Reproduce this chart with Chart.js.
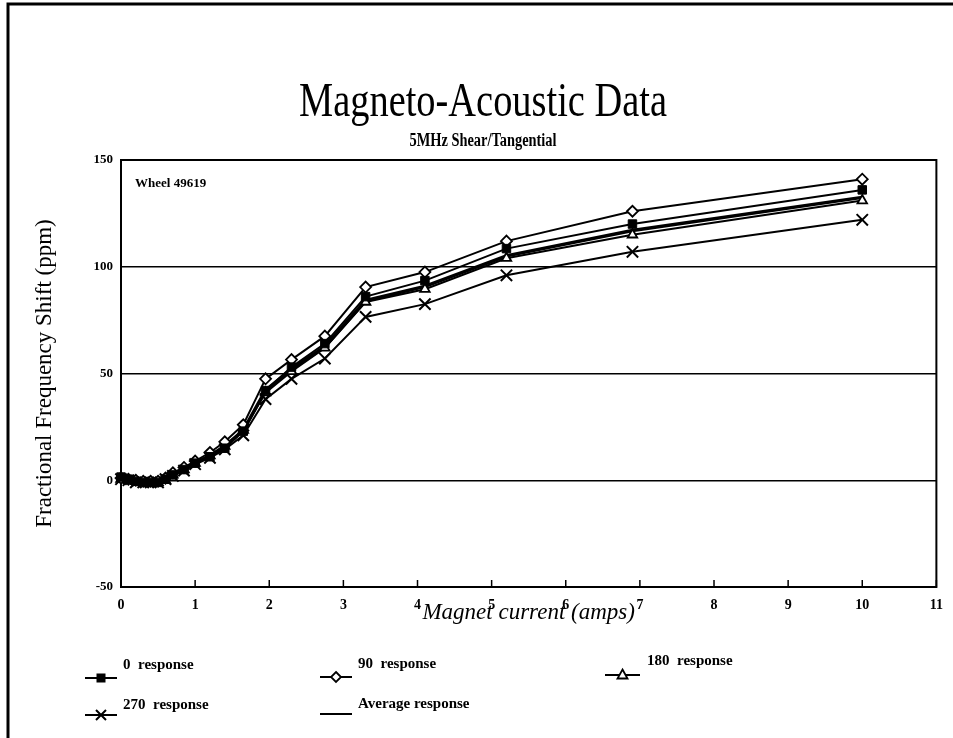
<!DOCTYPE html>
<html>
<head>
<meta charset="utf-8">
<script src="https://cdn.jsdelivr.net/npm/chart.js@4.4.1/dist/chart.umd.min.js"></script>
<style>
  html, body { margin: 0; padding: 0; background: #fff; }
  canvas { display: block; }
</style>
</head>
<body>
<canvas id="chart" width="953" height="738"></canvas>
<script>
// Magnet current settings (amps)
const currentAmps = [0, 0.1, 0.2, 0.3, 0.4, 0.5, 0.6, 0.7, 0.85, 1.0, 1.2, 1.4, 1.65, 1.95, 2.3, 2.75, 3.3, 4.1, 5.2, 6.9, 10.0];

// Fractional frequency shift (ppm) for each transducer orientation
const response0   = [1.5, 0.5, -0.5, -1, -1, -1, 0.5, 2.5, 5, 8, 11, 15, 23, 42, 53, 64, 86, 93.5, 108.5, 120, 136];
const response90  = [1, 0.5, 0, -0.5, -0.5, -0.5, 1, 3.5, 6, 9, 13, 18, 26, 47.5, 56.5, 67.5, 90.5, 97.5, 112, 126, 141];
const response180 = [0.5, 0, -0.5, -1, -1.5, -1, 0, 2.5, 5, 8, 11.5, 16, 23.5, 41, 51, 62, 83.5, 89.5, 104, 115, 131];
const response270 = [0.5, 0, -1, -1, -1, -1, 0.5, 2, 4.5, 7.5, 10.5, 14.5, 21, 38, 47.5, 57, 76.5, 82.5, 96, 107, 122];
const responseAvg = [0.9, 0.3, -0.5, -0.9, -1, -0.9, 0.5, 2.6, 5.1, 8.1, 11.5, 15.9, 23.4, 42.1, 52, 62.6, 84.1, 90.8, 105.1, 117, 132.5];

// Axis ticks
const xTicks = [0, 1, 2, 3, 4, 5, 6, 7, 8, 9, 10, 11];
const yTicks = [-50, 0, 50, 100, 150];

const titleText = 'Magneto-Acoustic Data';
const subtitleText = '5MHz Shear/Tangential';
const wheelLabel = 'Wheel 49619';

const SERIF = '"Liberation Serif", "Times New Roman", serif';

function pts(values) {
  return values.map((v, i) => ({ x: currentAmps[i], y: v }));
}

const datasets = [
  { label: '0  response', data: pts(response0), borderColor: '#000', borderWidth: 2,
    pointStyle: 'rect', pointRadius: 6, pointBackgroundColor: '#000', pointBorderColor: '#000', pointBorderWidth: 1 },
  { label: '90  response', data: pts(response90), borderColor: '#000', borderWidth: 2,
    pointStyle: 'rectRot', pointRadius: 5.5, pointBackgroundColor: '#fff', pointBorderColor: '#000', pointBorderWidth: 1.8 },
  { label: '180  response', data: pts(response180), borderColor: '#000', borderWidth: 2,
    pointStyle: 'triangle', pointRadius: 5.5, pointBackgroundColor: '#fff', pointBorderColor: '#000', pointBorderWidth: 1.8 },
  { label: '270  response', data: pts(response270), borderColor: '#000', borderWidth: 2,
    pointStyle: 'crossRot', pointRadius: 8, pointBorderColor: '#000', pointBorderWidth: 2 },
  { label: 'Average response', data: pts(responseAvg), borderColor: '#000', borderWidth: 3.5,
    pointRadius: 0 }
];

// Legend layout: sample line, marker, then label
const legendItems = [
  { ds: 0, x0: 85,  x1: 117, ly: 678, tx: 123, ty: 669 },
  { ds: 1, x0: 320, x1: 352, ly: 677, tx: 358, ty: 668 },
  { ds: 2, x0: 605, x1: 640, ly: 675, tx: 647, ty: 665 },
  { ds: 3, x0: 85,  x1: 117, ly: 715, tx: 123, ty: 709 },
  { ds: 4, x0: 320, x1: 352, ly: 714, tx: 358, ty: 708 }
];

function drawMarker(ctx, style, x, y) {
  ctx.save();
  ctx.strokeStyle = '#000';
  ctx.lineWidth = 1.8;
  ctx.beginPath();
  if (style === 'rect') {
    ctx.fillStyle = '#000';
    ctx.fillRect(x - 4.5, y - 4.5, 9, 9);
  } else if (style === 'rectRot') {
    ctx.fillStyle = '#fff';
    ctx.moveTo(x, y - 5); ctx.lineTo(x + 5, y); ctx.lineTo(x, y + 5); ctx.lineTo(x - 5, y); ctx.closePath();
    ctx.fill(); ctx.stroke();
  } else if (style === 'triangle') {
    ctx.fillStyle = '#fff';
    ctx.moveTo(x, y - 5.5); ctx.lineTo(x + 5, y + 3.5); ctx.lineTo(x - 5, y + 3.5); ctx.closePath();
    ctx.fill(); ctx.stroke();
  } else if (style === 'crossRot') {
    ctx.lineWidth = 2;
    ctx.moveTo(x - 5, y - 5); ctx.lineTo(x + 5, y + 5);
    ctx.moveTo(x + 5, y - 5); ctx.lineTo(x - 5, y + 5);
    ctx.stroke();
  }
  ctx.restore();
}

function condensedText(ctx, text, x, y, font, sx) {
  ctx.save();
  ctx.font = font;
  ctx.translate(x, y);
  ctx.scale(sx, 1);
  ctx.textAlign = 'center';
  ctx.textBaseline = 'alphabetic';
  ctx.fillText(text, 0, 0);
  ctx.restore();
}

const decorations = {
  id: 'decorations',
  beforeDraw(chart) {
    const ctx = chart.ctx;
    ctx.save();
    ctx.fillStyle = '#fff';
    ctx.fillRect(0, 0, chart.width, chart.height);
    // page frame
    ctx.strokeStyle = '#000';
    ctx.lineWidth = 3;
    ctx.beginPath();
    ctx.moveTo(8, chart.height);
    ctx.lineTo(8, 4);
    ctx.lineTo(chart.width, 4);
    ctx.stroke();
    ctx.restore();
  },
  beforeDatasetsDraw(chart) {
    const { ctx, chartArea: a, scales: { x } } = chart;
    ctx.save();
    ctx.strokeStyle = '#000';
    ctx.lineWidth = 2;
    ctx.strokeRect(a.left, a.top, a.right - a.left, a.bottom - a.top);
    // inward tick marks on the current axis
    ctx.lineWidth = 1.5;
    x.ticks.forEach(t => {
      const px = x.getPixelForValue(t.value);
      ctx.beginPath();
      ctx.moveTo(px, a.bottom);
      ctx.lineTo(px, a.bottom - 7);
      ctx.stroke();
    });
    ctx.fillStyle = '#000';
    ctx.font = 'bold 13px ' + SERIF;
    ctx.textAlign = 'left';
    ctx.textBaseline = 'alphabetic';
    ctx.fillText(wheelLabel, a.left + 14, a.top + 27);
    ctx.restore();
  },
  afterDraw(chart) {
    const { ctx } = chart;
    ctx.save();
    ctx.fillStyle = '#000';
    condensedText(ctx, titleText, 483, 116, '48px ' + SERIF, 0.8);
    condensedText(ctx, subtitleText, 483, 146, 'bold 18px ' + SERIF, 0.8);

    // legend
    legendItems.forEach(item => {
      const ds = chart.data.datasets[item.ds];
      ctx.strokeStyle = '#000';
      ctx.lineWidth = 2;
      ctx.beginPath();
      ctx.moveTo(item.x0, item.ly);
      ctx.lineTo(item.x1, item.ly);
      ctx.stroke();
      if (ds.pointRadius > 0) drawMarker(ctx, ds.pointStyle, (item.x0 + item.x1) / 2, item.ly);
      ctx.fillStyle = '#000';
      ctx.font = 'bold 15px ' + SERIF;
      ctx.textAlign = 'left';
      ctx.textBaseline = 'alphabetic';
      ctx.fillText(ds.label, item.tx, item.ty);
    });
    ctx.restore();
  }
};

new Chart(document.getElementById('chart'), {
  type: 'line',
  data: { datasets },
  plugins: [decorations],
  options: {
    responsive: false,
    animation: false,
    clip: false,
    layout: { padding: { top: 160, right: 16, left: 0, bottom: 0 } },
    plugins: { legend: { display: false }, tooltip: { enabled: false }, title: { display: false } },
    elements: { line: { tension: 0 } },
    scales: {
      x: {
        type: 'linear',
        min: 0, max: 11,
        afterBuildTicks: s => { s.ticks = xTicks.map(v => ({ value: v })); },
        afterFit: s => { s.height = 151; },
        grid: { display: false, drawTicks: false },
        border: { display: false },
        ticks: { color: '#000', padding: 10, font: { family: SERIF, size: 14, weight: 'bold' } },
        title: { display: true, text: 'Magnet current (amps)', color: '#000',
                 font: { family: SERIF, size: 23, style: 'italic' }, padding: { top: 0, bottom: 111 } }
      },
      y: {
        min: -50, max: 150,
        afterBuildTicks: s => { s.ticks = yTicks.map(v => ({ value: v })); },
        afterFit: s => { s.width = 121; },
        grid: { color: '#000', lineWidth: 1.5, drawTicks: false },
        border: { display: false },
        ticks: { color: '#000', padding: 8, font: { family: SERIF, size: 13, weight: 'bold' } },
        title: { display: true, text: 'Fractional Frequency Shift (ppm)', color: '#000',
                 font: { family: SERIF, size: 23 }, padding: { top: 31, bottom: 0 } }
      }
    }
  }
});
</script>
</body>
</html>
